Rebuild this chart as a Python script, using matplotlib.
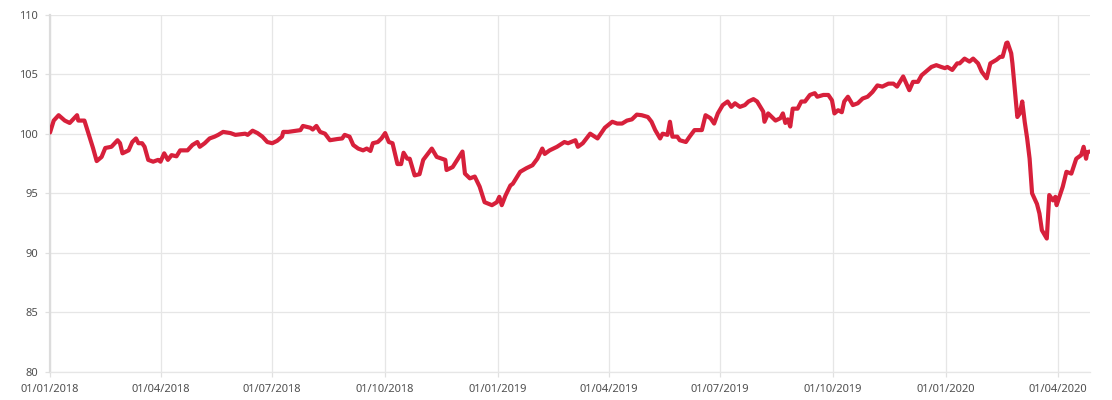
import numpy as np
import pandas as pd
import matplotlib
matplotlib.use("Agg")
import matplotlib.pyplot as plt
import matplotlib.dates as mdates

# days since 01/01/2018 and index level
day_offset = [
    0, 3, 7, 12, 16, 22, 23, 28, 33, 35, 38, 42, 45, 50, 55, 57, 59, 64, 67, 70,
    72, 75, 77, 80, 84, 88, 90, 93, 96, 99, 103, 106, 112, 116, 120, 122, 126, 130, 134, 137,
    141, 147, 151, 155, 159, 161, 165, 169, 173, 177, 181, 185, 189, 190, 194, 201, 204, 206, 212, 214,
    217, 220, 224, 228, 234, 238, 240, 244, 247, 251, 255, 258, 261, 263, 267, 270, 273, 276, 279, 283,
    286, 288, 291, 293, 297, 301, 304, 311, 315, 322, 323, 328, 336, 338, 342, 346, 350, 354, 360, 364,
    366, 368, 371, 375, 377, 383, 388, 393, 397, 401, 403, 407, 413, 419, 422, 428, 430, 434, 440, 446,
    448, 452, 458, 462, 466, 470, 474, 478, 482, 487, 490, 493, 497, 499, 503, 505, 507, 511, 513, 518,
    521, 525, 531, 534, 538, 541, 544, 548, 552, 555, 558, 562, 566, 569, 573, 576, 581, 582, 585, 591,
    595, 597, 599, 601, 603, 605, 609, 612, 615, 619, 623, 625, 630, 634, 637, 639, 642, 645, 647, 650,
    654, 658, 662, 666, 670, 674, 678, 683, 687, 690, 695, 700, 703, 707, 710, 718, 722, 726, 729, 731,
    735, 739, 741, 745, 749, 752, 756, 759, 763, 766, 771, 774, 776, 779, 780, 783, 784, 788, 790, 792,
    794, 796, 798, 800, 804, 806, 808, 812, 814, 817, 819, 820, 825, 828, 832, 836, 840, 842, 844, 845,
    847,
]
level = [
    100.1, 101.1, 101.55, 101.1, 100.9, 101.55, 101.1, 101.1, 99.45, 98.8, 97.7, 98.05, 98.8, 98.9, 99.45, 99.2, 98.35, 98.6, 99.3, 99.6,
    99.2, 99.2, 98.9, 97.8, 97.65, 97.8, 97.65, 98.35, 97.8, 98.2, 98.1, 98.6, 98.6, 99.05, 99.3, 98.9, 99.2, 99.6, 99.75, 99.9,
    100.15, 100.05, 99.9, 99.95, 100.0, 99.9, 100.25, 100.05, 99.75, 99.3, 99.2, 99.4, 99.75, 100.15, 100.15, 100.25, 100.3, 100.65, 100.5, 100.35,
    100.65, 100.15, 100.0, 99.45, 99.55, 99.6, 99.9, 99.75, 99.05, 98.75, 98.6, 98.75, 98.55, 99.2, 99.3, 99.6, 100.05, 99.3, 99.2, 97.45,
    97.45, 98.4, 97.9, 97.9, 96.5, 96.6, 97.8, 98.75, 98.05, 97.8, 96.95, 97.2, 98.5, 96.65, 96.25, 96.4, 95.55, 94.25, 94.0, 94.25,
    94.7, 94.0, 94.8, 95.65, 95.8, 96.8, 97.1, 97.35, 97.9, 98.75, 98.3, 98.6, 98.9, 99.3, 99.2, 99.45, 98.9, 99.2, 100.0, 99.6,
    99.9, 100.5, 101.0, 100.85, 100.85, 101.1, 101.2, 101.6, 101.55, 101.4, 101.0, 100.3, 99.6, 100.0, 99.9, 101.0, 99.75, 99.75, 99.45, 99.3,
    99.75, 100.3, 100.3, 101.55, 101.3, 100.85, 101.7, 102.4, 102.7, 102.25, 102.55, 102.25, 102.4, 102.7, 102.9, 102.7, 101.85, 101.0, 101.7, 101.1,
    101.3, 101.7, 100.9, 101.2, 100.6, 102.1, 102.1, 102.7, 102.7, 103.25, 103.4, 103.1, 103.25, 103.25, 102.8, 101.7, 101.97, 101.8, 102.7, 103.1,
    102.4, 102.55, 102.95, 103.1, 103.5, 104.05, 103.95, 104.2, 104.2, 103.95, 104.8, 103.65, 104.35, 104.35, 104.9, 105.6, 105.75, 105.6, 105.5, 105.6,
    105.35, 105.9, 105.9, 106.3, 106.05, 106.3, 105.9, 105.2, 104.65, 105.9, 106.2, 106.45, 106.45, 107.6, 107.65, 106.75, 105.9, 101.4, 101.7, 102.7,
    101.0, 99.6, 97.9, 95.0, 94.1, 93.3, 91.9, 91.2, 94.85, 94.4, 94.7, 94.0, 95.55, 96.8, 96.65, 97.9, 98.2, 98.9, 97.9, 98.45,
    98.5,
]
tick_dates = ["2018-01-01", "2018-04-01", "2018-07-01", "2018-10-01", "2019-01-01",
              "2019-04-01", "2019-07-01", "2019-10-01", "2020-01-01", "2020-04-01"]
y_ticks = [80, 85, 90, 95, 100, 105, 110]

start = pd.Timestamp("2018-01-01")
dates = start + pd.to_timedelta(day_offset, unit="D")

plt.rcParams['font.family'] = ['Noto Sans', 'DejaVu Sans']

fig = plt.figure(figsize=(11.12, 4.0), dpi=100)
ax = fig.add_axes([0.045, 0.07, 0.935, 0.8937])

ax.plot(dates, level, color="#d7203b", lw=3.0, solid_joinstyle="round", solid_capstyle="round", zorder=3)

ax.set_xlim(start, dates[-1])
ax.set_ylim(80, 110)
ax.set_yticks(y_ticks)
ax.set_xticks(pd.to_datetime(tick_dates))
ax.xaxis.set_major_formatter(mdates.DateFormatter("%d/%m/%Y"))

ax.grid(True, color="#e6e6e6", lw=0.9, zorder=0)
for s in ["top", "right"]:
    ax.spines[s].set_visible(False)
ax.spines["bottom"].set_color("#e6e6e6")
ax.spines["bottom"].set_linewidth(0.9)
ax.spines["left"].set_color("#dcdcdc")
ax.spines["left"].set_linewidth(1.6)

ax.tick_params(axis="both", colors="#e0e0e0", labelcolor="#4f4f4f", labelsize=8, length=3.5, width=0.9)
ax.tick_params(axis="y", pad=5)
ax.tick_params(axis="x", pad=5)

fig.savefig("out.png", dpi=100, facecolor="white")
